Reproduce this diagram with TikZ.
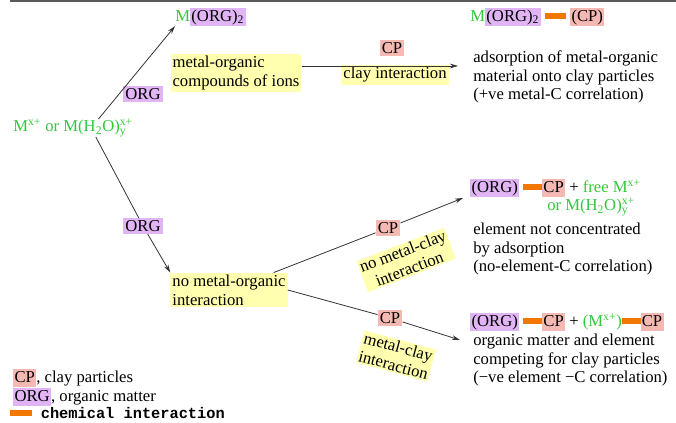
\documentclass[tikz,border=0pt]{standalone}
\usepackage{fontspec}
\setmainfont{Liberation Serif}
\setmonofont{Liberation Mono}
\usetikzlibrary{arrows.meta}

\definecolor{mgreen}{RGB}{50,200,60}
\definecolor{orgviolet}{RGB}{225,180,245}
\definecolor{cppink}{RGB}{245,185,180}
\definecolor{hlyellow}{RGB}{255,255,175}
\definecolor{bondorange}{RGB}{240,120,0}

\newcommand\orgbox[1]{{\setlength\fboxsep{1pt}\colorbox{orgviolet}{\vphantom{(}#1}}}
\newcommand\cpbox[1]{{\setlength\fboxsep{1pt}\colorbox{cppink}{\vphantom{(}#1}}}
\newcommand\bond[1][14pt]{\textcolor{bondorange}{\rule[0.3ex]{#1}{4.5pt}}}
\newcommand\hyd{M(H\textsubscript{2}O)\makebox[0pt][l]{\textsubscript{y}}\textsuperscript{x+}}

\tikzset{%
  hl/.style={fill=hlyellow, inner sep=1.5pt, align=left},%
  orgtag/.style={fill=orgviolet, inner sep=1.5pt},%
  cptag/.style={fill=cppink, inner sep=1.5pt},%
  txt/.style={anchor=west, align=left, inner sep=0pt},%
  link/.style={line width=0.6pt, black!80}%
}

\begin{document}
\begin{tikzpicture}[x=0.75pt,y=-0.75pt,
    font=\fontsize{12.5}{14}\selectfont,
    >={Stealth[length=6pt,width=3.5pt]}]
  \useasboundingbox (0,0) rectangle (676,423);
  \draw[line width=1.2pt, black!65] (10,1) -- (676,1);%
  %
  % left part
  \node[txt, text=mgreen] (src) at (13,128) {M\textsuperscript{x+} or \hyd};%
  \node[txt] (morg) at (175,17) {\textcolor{mgreen}{M}\orgbox{(ORG)\textsubscript{2}}};%
  \node[orgtag] (org1) at (143,94) {ORG};%
  \node[orgtag] (org2) at (143,226) {ORG};%
  \node[hl] (moc) at (236,73) {metal-organic\\compounds of ions};%
  \node[hl] (nomo) at (229,290) {no metal-organic\\interaction};%
  %
  % middle labels
  \node[cptag] (cp1) at (392,48) {CP};%
  \node[hl] (clay) at (395,75) {clay interaction};%
  \node[cptag] (cp2) at (388,228) {CP};%
  \node[hl, align=center, rotate=21, inner sep=1pt] (nomc) at (406,260) {no metal-clay\\interaction};%
  \node[cptag] (cp3) at (390,318) {CP};%
  \node[hl, align=center, rotate=-15, inner sep=1pt] (mc) at (396,356) {metal-clay\\interaction};%
  \coordinate (h1) at (458,66);%
  \coordinate (h2) at (463,198);%
  \coordinate (h3) at (460,340);%
  %
  % results
  \node[txt] (top2) at (470,17) {\textcolor{mgreen}{M}\orgbox{(ORG)\textsubscript{2}} \bond[16pt] \cpbox{(CP)}};%
  \node[txt] (res1) at (473,77) {adsorption of metal-organic\\material onto clay particles\\(+ve metal-C correlation)};%
  \node[txt] (mid2) at (470,188) {\orgbox{(ORG)} \bond \cpbox{CP} + \textcolor{mgreen}{free M\textsuperscript{x+}}};%
  \node[txt, text=mgreen] (mid2b) at (547,207) {or \hyd};%
  \node[txt] (res2) at (473,249) {element not concentrated\\by adsorption\\(no-element-C correlation)};%
  \node[txt] (low2) at (470,322) {\orgbox{(ORG)} \bond \cpbox{CP} + \textcolor{mgreen}{(M\textsuperscript{x+})}\bond\cpbox{CP}};%
  \node[txt] (res3) at (473,360) {organic matter and element\\competing for clay particles\\(−ve element −C correlation)};%
  %
  % legend
  \node[txt] (lg1) at (13,378) {\cpbox{CP}, clay particles};%
  \node[txt] (lg2) at (13,397) {\orgbox{ORG}, organic matter};%
  \node[txt, font=\fontsize{11.5}{12}\selectfont\ttfamily\bfseries] (lg3) at (10,413) {\bond[16pt] chemical interaction};%
  %
  % connectors
  \draw[link,->] ([xshift=19pt]src.north) -- (morg.south west);%
  \draw[link] ([xshift=17pt]src.south) -- (org2);%
  \draw[link,->] (org2) -- (nomo.north west);%
  \draw[link,->] (moc.east |- h1) -- (h1);%
  \draw[link] (nomo) -- (cp2);%
  \draw[link,->] (cp2) -- (h2);%
  \draw[link] (nomo.east) -- (cp3);%
  \draw[link,->] (cp3) -- (h3);%
\end{tikzpicture}
\end{document}
